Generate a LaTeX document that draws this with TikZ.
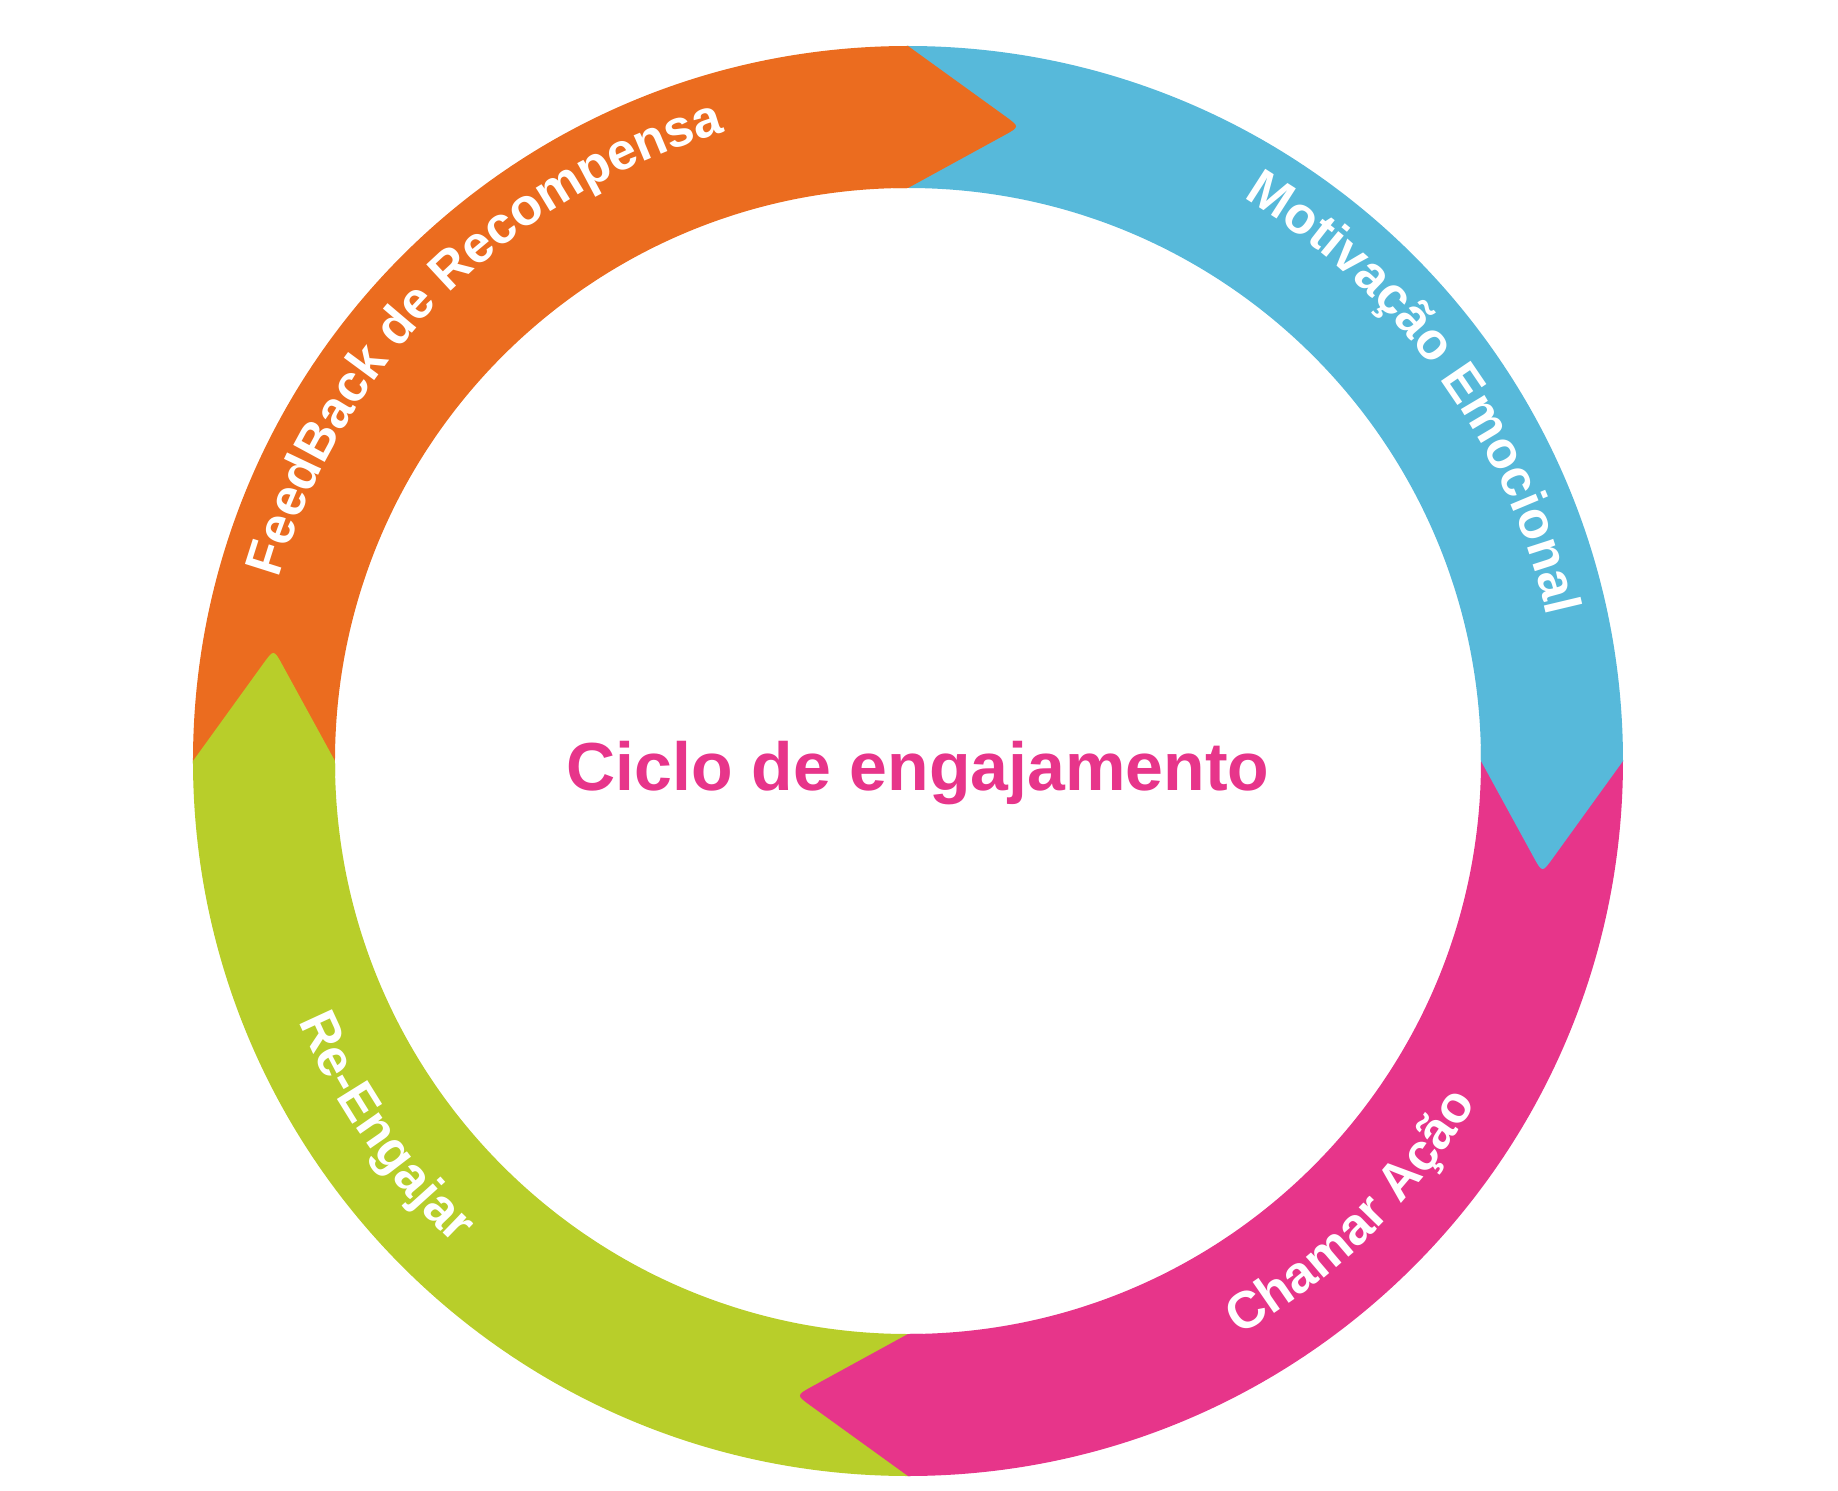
\documentclass[tikz,border=0pt]{standalone}
\usepackage{fontspec}
\setmainfont{Liberation Sans}
\usepackage{xcolor}
\usepackage{tikz}
\usetikzlibrary{calc}
\usetikzlibrary{decorations.text}
\definecolor{cycorange}{HTML}{EB6C1F}
\definecolor{cycblue}{HTML}{57B9DA}
\definecolor{cycpink}{HTML}{E7358A}
\definecolor{cycgreen}{HTML}{B8CE2A}
\newcommand{\ringfont}{\bfseries\fontsize{26}{30}\selectfont}
\tikzset{%
  ring-label/.style = {decorate, decoration={text along path, text align=center, text color=white, text={|\ringfont|#1}}},
  title/.style = {text=cycpink, font=\bfseries\fontsize{34}{40}\selectfont, anchor=base}
}

\begin{document}
\begin{tikzpicture}[x=0.5pt, y=0.5pt]
  \useasboundingbox (-908,-729) rectangle (930,761);

  % ring segments: bodies first
  \foreach \tail/\col in {180/cycorange, 90/cycblue, 360/cycpink, 270/cycgreen} {
    \pgfmathsetmacro{\head}{\tail-90}
    \fill[\col] (\tail:715) arc[start angle=\tail, end angle=\head, radius=715]
      -- (\head:573) arc[start angle=\head, end angle=\tail, radius=573] -- cycle;
  }

  % arrow heads on top
  \foreach \tail/\col in {180/cycorange, 90/cycblue, 360/cycpink, 270/cycgreen} {
    \pgfmathsetmacro{\head}{\tail-90}
    \pgfmathsetmacro{\back}{\head+1.5}
    \pgfmathsetmacro{\tip}{\head-10}
    \coordinate (head-out) at (\head:715);
    \coordinate (head-in) at (\head:573);
    \coordinate (head-tip) at (\tip:644);
    \fill[\col] (\back:715) arc[start angle=\back, end angle=\head, radius=715]
      -- ($(head-tip)!9pt!(head-out)$) .. controls (head-tip) .. ($(head-tip)!9pt!(head-in)$)
      -- (head-in) arc[start angle=\head, end angle=\back, radius=573] -- cycle;
  }

  % labels
  \path[ring-label={FeedBack de Recompensa}] (185:655) arc[start angle=185, end angle=85, radius=655];
  \path[ring-label={Motivação Emocional}] (86:655) arc[start angle=86, end angle=-14, radius=655];
  \path[ring-label={Chamar Ação}] (-95:663) arc[start angle=-95, end angle=4, radius=663];
  \path[ring-label={Re-Engajar}] (165:663) arc[start angle=165, end angle=265, radius=663];

  \node[title] (cycle-title) at (10,-29) {Ciclo de engajamento};
\end{tikzpicture}
\end{document}
